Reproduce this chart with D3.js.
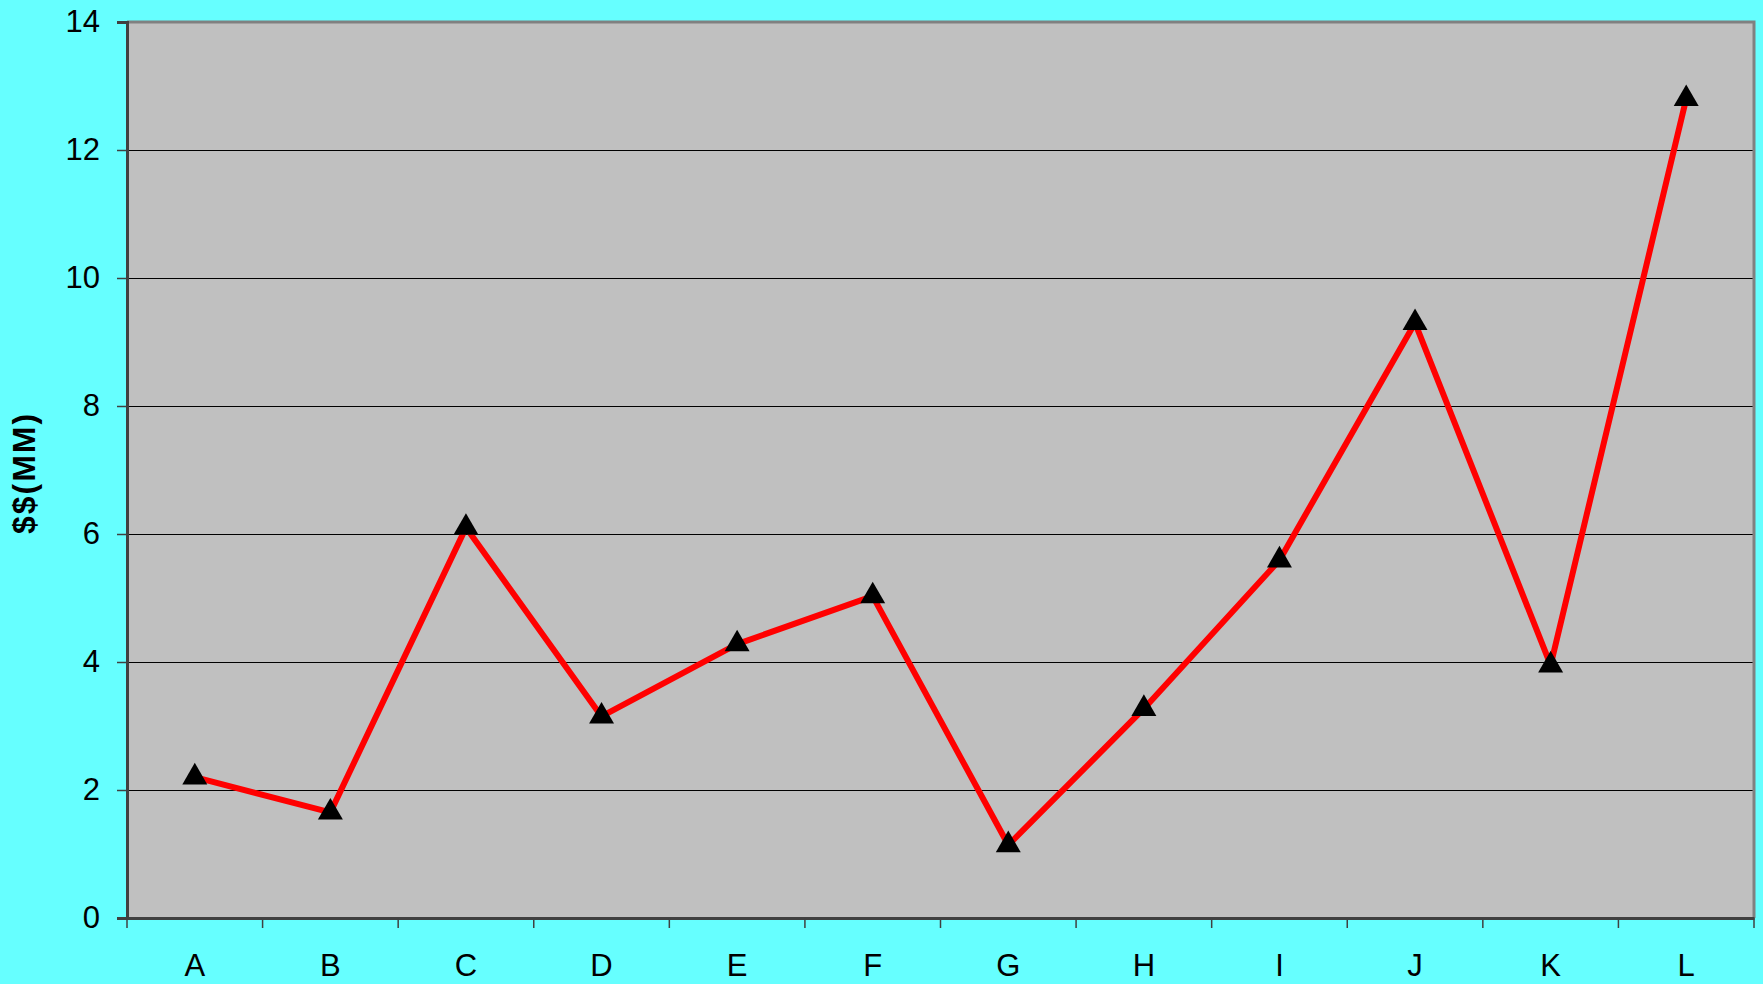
<!DOCTYPE html>
<html>
<head>
<meta charset="utf-8">
<script src="https://cdn.jsdelivr.net/npm/d3@7"></script>
<style>
  body { margin: 0; background: #66ffff; }
  svg { display: block; font-family: Arial, "Liberation Sans", sans-serif; }
</style>
</head>
<body>
<svg width="1763" height="984"></svg>
<script>
// categories and values
var categories = ["A", "B", "C", "D", "E", "F", "G", "H", "I", "J", "K", "L"];
var values = [2.2, 1.65, 6.1, 3.15, 4.28, 5.03, 1.14, 3.27, 5.59, 9.3, 3.95, 12.8];
var yTicks = [0, 2, 4, 6, 8, 10, 12, 14];

var svg = d3.select("svg"),
    W = +svg.attr("width"),
    H = +svg.attr("height");
var margin = {top: 22, right: 9, bottom: 66, left: 127};
var width = W - margin.left - margin.right,
    height = H - margin.top - margin.bottom;

var data = categories.map(function (c, i) { return {cat: c, v: values[i]}; });

var x = d3.scaleBand().domain(categories).range([0, width]);
var y = d3.scaleLinear().domain([0, 14]).range([height, 0]);

var g = svg.append("g")
    .attr("transform", "translate(" + margin.left + "," + margin.top + ")");

// plot area
g.append("rect")
    .attr("width", width)
    .attr("height", height)
    .attr("fill", "#c0c0c0");

// gridlines
g.selectAll(".grid")
    .data(yTicks.slice(1, -1))
    .enter().append("line")
    .attr("x1", 0).attr("x2", width)
    .attr("y1", function (d) { return y(d) + 0.5; })
    .attr("y2", function (d) { return y(d) + 0.5; })
    .attr("stroke", "#000")
    .attr("stroke-width", 1.3)
    .attr("shape-rendering", "crispEdges");

// border top / right
g.append("path")
    .attr("d", "M0,0H" + width + "V" + height)
    .attr("fill", "none")
    .attr("stroke", "#808080")
    .attr("stroke-width", 3);

// y axis
var yAxis = d3.axisLeft(y).tickValues(yTicks).tickSize(10).tickPadding(17);
var gY = g.append("g").call(yAxis);
gY.select(".domain").attr("stroke", "#404040").attr("stroke-width", 3);
gY.selectAll(".tick line").attr("stroke", "#404040").attr("stroke-width", 1.5);
gY.selectAll(".tick text").attr("font-size", 31).attr("font-family", "Arial, 'Liberation Sans', sans-serif").attr("fill", "#000");

// x axis
var xAxis = d3.axisBottom(x).tickSize(0).tickPadding(36);
var gX = g.append("g").attr("transform", "translate(0," + height + ")").call(xAxis);
gX.select(".domain").attr("stroke", "#404040").attr("stroke-width", 3);
gX.selectAll(".tick text").attr("font-size", 31).attr("font-family", "Arial, 'Liberation Sans', sans-serif").attr("fill", "#000");
// band boundary ticks
gX.selectAll(".bt")
    .data(categories.concat([null]))
    .enter().append("line")
    .attr("x1", function (d, i) { return i * x.bandwidth(); })
    .attr("x2", function (d, i) { return i * x.bandwidth(); })
    .attr("y1", 0).attr("y2", 10)
    .attr("stroke", "#404040").attr("stroke-width", 1.5);

// axis title
svg.append("text")
    .attr("transform", "translate(35," + (margin.top + height / 2 + 3) + ") rotate(-90)")
    .attr("text-anchor", "middle")
    .attr("font-size", 32)
    .attr("font-weight", "bold")
    .attr("letter-spacing", 2)
    .text("$$(MM)");

// line
var line = d3.line()
    .x(function (d) { return x(d.cat) + x.bandwidth() / 2; })
    .y(function (d) { return y(d.v); });
g.append("path")
    .datum(data)
    .attr("d", line)
    .attr("fill", "none")
    .attr("stroke", "#ff0000")
    .attr("stroke-width", 6)
    .attr("stroke-linejoin", "round");

// markers
var tri = d3.symbol().type(d3.symbolTriangle).size(270);
g.selectAll(".pt")
    .data(data)
    .enter().append("path")
    .attr("d", tri)
    .attr("transform", function (d) {
        return "translate(" + (x(d.cat) + x.bandwidth() / 2) + "," + y(d.v) + ")";
    })
    .attr("fill", "#000");
</script>
</body>
</html>
